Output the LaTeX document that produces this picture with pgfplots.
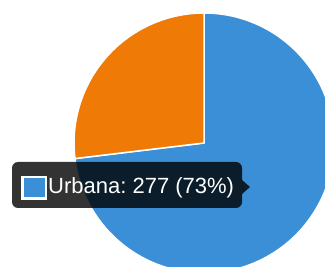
\documentclass[border=0pt]{standalone}
\usepackage{pgfplots}
\pgfplotsset{compat=1.18}
\usepackage{fontspec}
\setmainfont{Liberation Sans}
\definecolor{pieblue}{HTML}{3A8FD6}
\definecolor{pieorange}{HTML}{EF7A05}
\begin{document}
\frenchspacing
\begin{tikzpicture}
\pgfmathsetmacro{\vU}{277}
\pgfmathsetmacro{\vR}{102}
\pgfmathsetmacro{\tot}{\vU+\vR}
\pgfmathsetmacro{\aU}{\vU/\tot*360}
\pgfmathsetmacro{\aR}{\vR/\tot*360}
\begin{axis}[
  scale only axis, width=325bp, height=267bp,
  xmin=0, xmax=325, ymin=0, ymax=267,
  hide axis, clip=true]
\addplot[draw=none, forget plot] coordinates {(0,0) (325,267)};
% Urbana slice (clockwise from top)
\fill[pieblue, draw=white, line width=1.5bp, line join=round]
  (axis cs:204,124) -- ++(90:130bp) arc[start angle=90, delta angle=-\aU, radius=130bp] -- cycle;
% other slice
\fill[pieorange, draw=white, line width=1.5bp, line join=round]
  (axis cs:204,124) -- ++(90:130bp) arc[start angle=90, delta angle=\aR, radius=130bp] -- cycle;
% tooltip
\fill[black, fill opacity=0.8, rounded corners=6bp] (axis cs:12,59) rectangle (axis cs:242,105);
\fill[black, fill opacity=0.8] (axis cs:242,87) -- (axis cs:250,80) -- (axis cs:242,73) -- cycle;
\fill[pieblue, draw=white, line width=2.5bp] (axis cs:22.25,68.25) rectangle (axis cs:45.75,89.75);
\node[anchor=base west, inner sep=0pt, text=white, font=\fontsize{22bp}{24bp}\selectfont]
  at (axis cs:48,73) {Urbana: 277 (73\%)};
\end{axis}
\pgfresetboundingbox
\useasboundingbox (current axis.south west) rectangle (current axis.north east);
\end{tikzpicture}
\end{document}
